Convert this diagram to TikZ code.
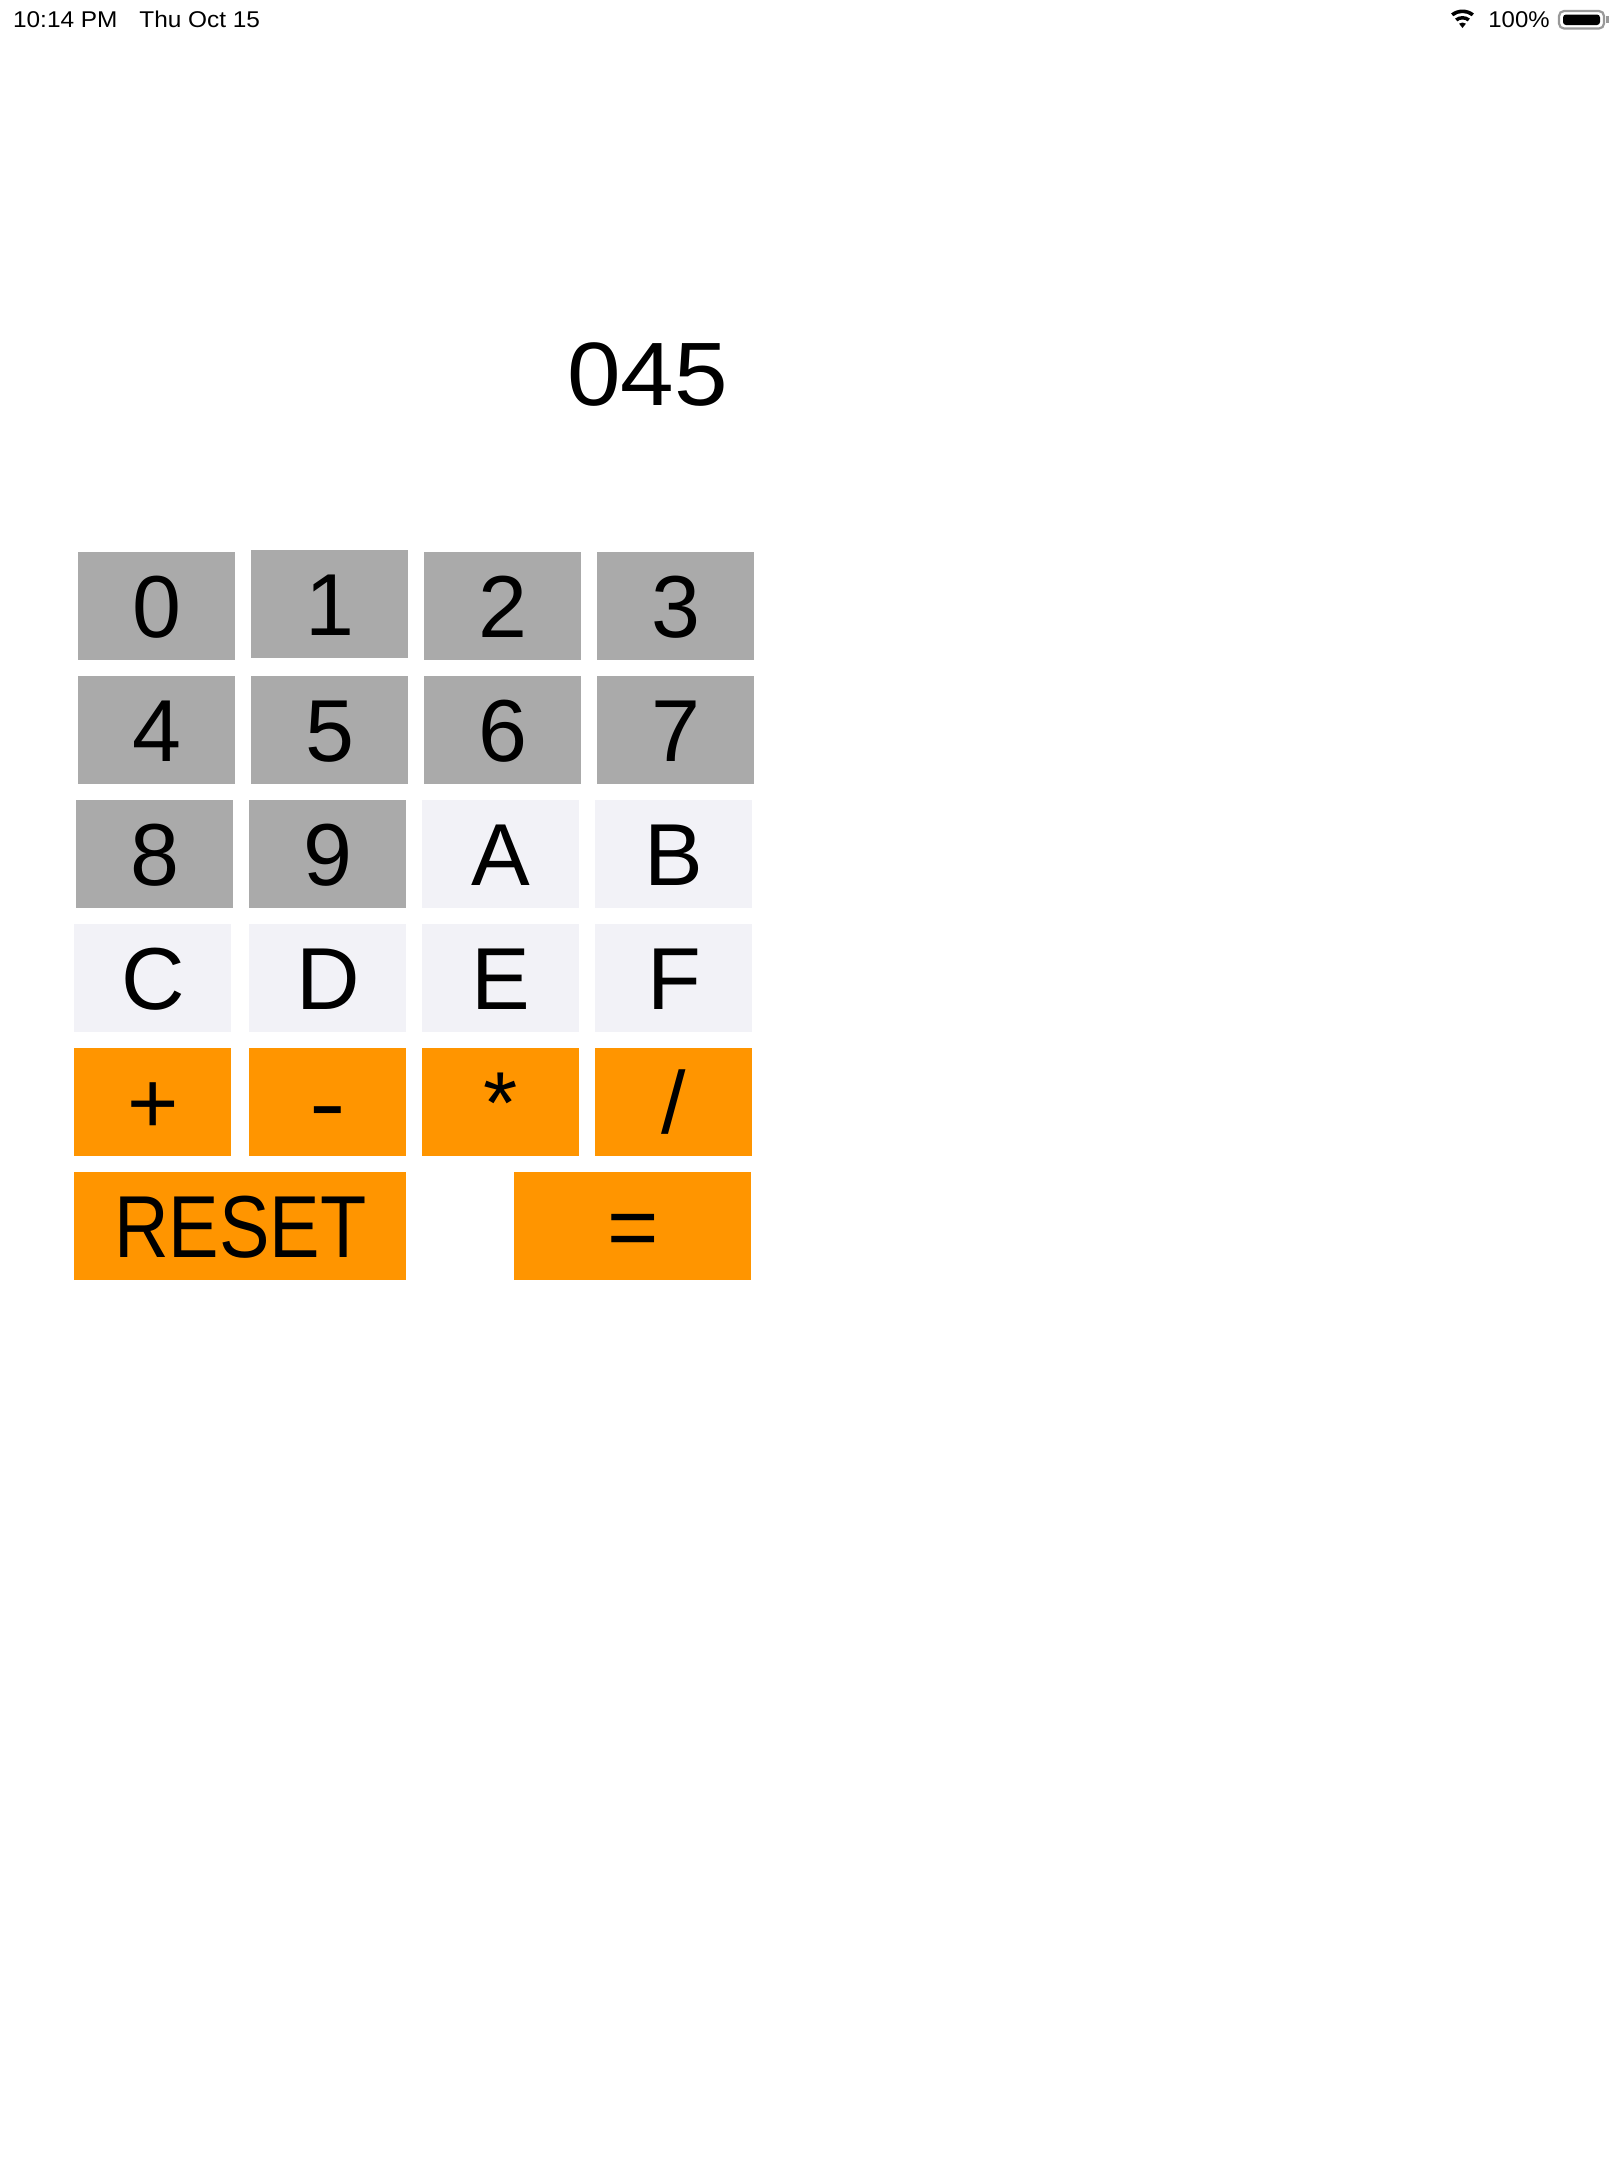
\documentclass[tikz,border=0pt]{standalone}
\usepackage{fontspec}
\usepackage{graphicx}
\setmainfont{Liberation Sans}
\usetikzlibrary{calc}
\definecolor{keygray}{HTML}{AAAAAA}
\definecolor{keylight}{HTML}{F2F2F7}
\definecolor{keyorange}{HTML}{FF9500}
\definecolor{battgray}{HTML}{999999}
\tikzset{
  key/.style={rectangle, anchor=north west, inner sep=0pt, minimum width=78.5pt,
    minimum height=54pt, text height=31pt, text depth=0pt,
    font=\fontsize{44}{44}\selectfont, text=black},
  numkey/.style={key, fill=keygray},
  hexkey/.style={key, fill=keylight},
  opkey/.style={key, fill=keyorange},
  statustext/.style={font=\fontsize{11.4}{12}\selectfont, anchor=base west, inner sep=0pt},
}
\begin{document}
\begin{tikzpicture}[x=0.5pt,y=-0.5pt]
\useasboundingbox[fill=white] (0,0) rectangle (1620,2160);

% status bar
\node[statustext] (time) at (12.7,27.7) {\scalebox{1.07}[1]{10:14 PM}};
\node[statustext] (date) at (139,27.7) {\scalebox{1.07}[1]{Thu Oct 15}};
\node[statustext] (pct) at (1488,27.7) {\scalebox{1.05}[1]{100\%}};
\coordinate (wifi) at (1462.5,28);
\fill ($(wifi)+(232:18.5)$) arc[start angle=232, end angle=308, radius=18.5]
  -- ($(wifi)+(308:15)$) arc[start angle=308, end angle=232, radius=15] -- cycle;
\fill ($(wifi)+(232:12)$) arc[start angle=232, end angle=308, radius=12]
  -- ($(wifi)+(308:8.5)$) arc[start angle=308, end angle=232, radius=8.5] -- cycle;
\fill (wifi) -- ($(wifi)+(232:5.5)$) arc[start angle=232, end angle=308, radius=5.5] -- cycle;
\draw[battgray, line width=1.1pt, rounded corners=2.5pt] (1559,11) rectangle (1604,28.5);
\fill[black, rounded corners=1.5pt] (1563,14.5) rectangle (1600,25);
\fill[battgray] (1606,15.5) rectangle (1609,23);

% display
\node[font=\fontsize{45}{45}\selectfont, anchor=base, inner sep=0pt] (display) at (647.5,405) {\scalebox{1.07}[1]{045}};

% keys
\node[numkey] (k0) at (78,552) {0};
\node[numkey] (k1) at (251,550) {1};
\node[numkey] (k2) at (424,552) {2};
\node[numkey] (k3) at (597,552) {3};

\node[numkey] (k4) at (78,676) {4};
\node[numkey] (k5) at (251,676) {5};
\node[numkey] (k6) at (424,676) {6};
\node[numkey] (k7) at (597,676) {7};

\node[numkey] (k8) at (76,800) {8};
\node[numkey] (k9) at (249,800) {9};
\node[hexkey] (kA) at (422,800) {A};
\node[hexkey] (kB) at (595,800) {B};

\node[hexkey] (kC) at (74,924) {C};
\node[hexkey] (kD) at (249,924) {D};
\node[hexkey] (kE) at (422,924) {E};
\node[hexkey] (kF) at (595,924) {F};

\node[opkey] (kplus) at (74,1048) {+};
\node[opkey] (kminus) at (249,1048) {\scalebox{1.25}[1]{-}};
\node[opkey] (ktimes) at (422,1048) {*};
\node[opkey] (kdiv) at (595,1048) {/};

\node[opkey, minimum width=166pt] (kreset) at (74,1172) {\scalebox{0.86}[1]{RESET}};
\node[opkey, minimum width=118.5pt] (keq) at (514,1172) {=};
\end{tikzpicture}
\end{document}
